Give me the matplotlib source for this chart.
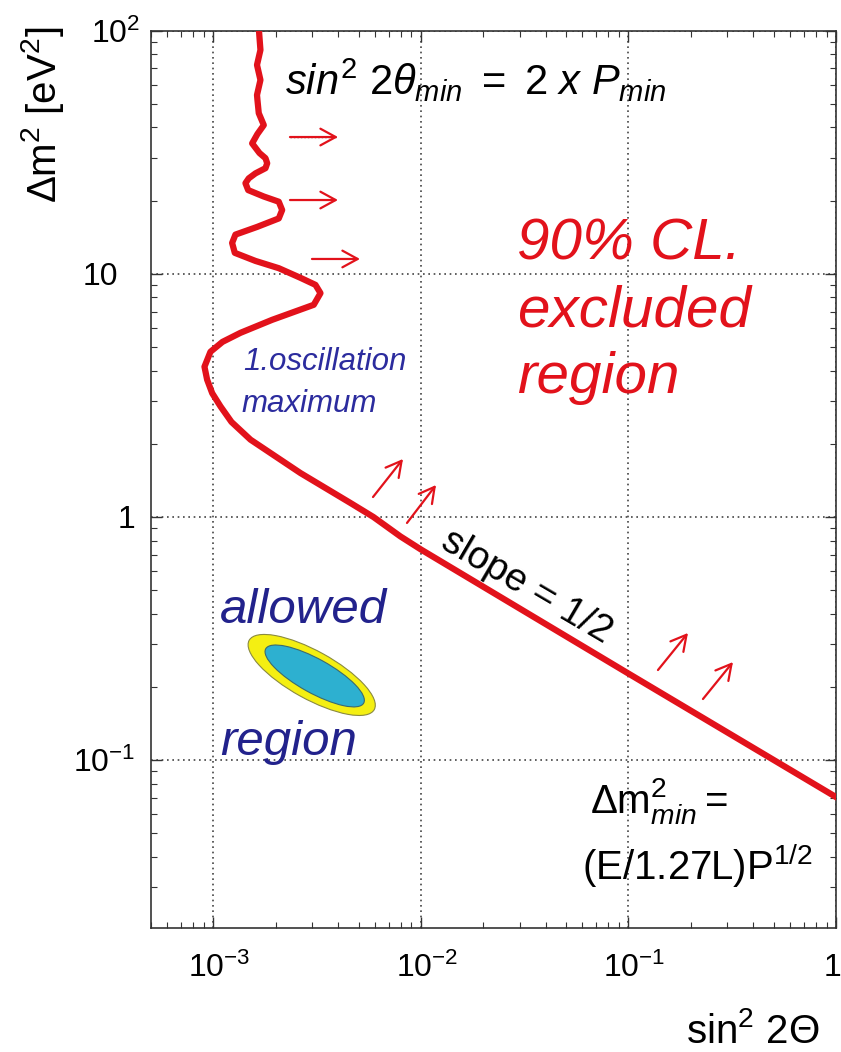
import matplotlib
matplotlib.use("Agg")
import matplotlib.pyplot as plt
from matplotlib.patches import Ellipse
from matplotlib.transforms import ScaledTranslation
from matplotlib.ticker import FixedLocator, LogLocator, NullFormatter

plt.rcParams['font.family'] = ['Liberation Sans', 'DejaVu Sans']
plt.rcParams['mathtext.fontset'] = 'custom'
plt.rcParams['mathtext.rm'] = 'Liberation Sans'
plt.rcParams['mathtext.it'] = 'Liberation Sans:italic'
plt.rcParams['mathtext.bf'] = 'Liberation Sans:bold'

# 90% CL exclusion contour: sin^2(2theta) vs delta m^2 [eV^2]
sin2theta = [1.657e-3, 1.657e-3, 1.684e-3, 1.621e-3, 1.684e-3, 1.621e-3,
             1.629e-3, 1.653e-3, 1.748e-3, 1.629e-3, 1.536e-3, 1.666e-3,
             1.781e-3, 1.815e-3, 1.781e-3, 1.594e-3, 1.479e-3, 1.426e-3,
             1.470e-3, 1.748e-3, 2.064e-3, 2.143e-3, 2.064e-3, 1.624e-3,
             1.276e-3, 1.230e-3, 1.267e-3, 1.594e-3, 2.064e-3, 2.626e-3,
             3.101e-3, 3.279e-3, 3.043e-3, 1.918e-3, 1.349e-3, 1.105e-3,
             9.67e-4, 9.05e-4, 9.32e-4, 9.86e-4, 1.081e-3, 1.221e-3,
             1.508e-3, 2.626e-3, 4.572e-3, 5.90e-3, 7.96e-3, 1.0e-2,
             0.1, 1.0]
dm2 = [105.5, 100, 83.3, 72.3, 62.7, 54.4,
       51.9, 45.8, 40.9, 37.6, 34.4, 31.4,
       29.9, 28.5, 27.2, 25.9, 24.7, 23.6,
       22.1, 20.8, 19.8, 18.3, 16.9, 15.6,
       14.5, 13.4, 12.2, 11.3, 10.55, 9.63,
       9.01, 8.33, 7.46, 6.47, 5.72, 5.25,
       4.78, 4.15, 3.67, 3.23, 2.85, 2.46,
       2.08, 1.516, 1.142, 1.0, 0.832, 0.735,
       0.227, 0.0705]

x_ticks = [1e-3, 1e-2, 1e-1, 1]
x_ticklabels = [r'$10^{-3}$', r'$10^{-2}$', r'$10^{-1}$', '1']
y_ticks = [0.1, 1, 10, 100]
y_ticklabels = [r'$10^{-1}$', '1', '10', r'$10^{2}$']

RED = '#e2121b'
NAVY = '#22228c'
BLUE = '#2c2c9e'

fig = plt.figure(figsize=(8.41, 10.52), dpi=100)
ax = fig.add_axes([151/841, 1 - 928/1052, 685/841, 897.3/1052])
ax.set_xscale('log')
ax.set_yscale('log')
ax.set_xlim(5e-4, 1)
ax.set_ylim(0.0204, 100)

ax.plot(sin2theta, dm2, color=RED, lw=4.5, solid_joinstyle='round', zorder=3)

ax.xaxis.set_major_locator(FixedLocator(x_ticks))
ax.yaxis.set_major_locator(FixedLocator(y_ticks))
ax.set_xticklabels(x_ticklabels)
ax.set_yticklabels(y_ticklabels)
ax.xaxis.set_minor_locator(LogLocator(base=10, subs=range(2, 10), numticks=20))
ax.yaxis.set_minor_locator(LogLocator(base=10, subs=range(2, 10), numticks=20))
ax.xaxis.set_minor_formatter(NullFormatter())
ax.yaxis.set_minor_formatter(NullFormatter())
ax.tick_params(which='both', direction='in', top=True, right=True,
               colors='#333333', labelcolor='black')
ax.tick_params(which='major', length=8, width=1, labelsize=23)
ax.tick_params(which='minor', length=4, width=0.8)
ax.tick_params(axis='y', which='major', pad=8)
ax.tick_params(axis='x', which='major', pad=18)
for s in ax.spines.values():
    s.set_linewidth(1.2)
    s.set_color('#333333')
ax.grid(which='major', linestyle=(0, (1, 2.2)), color='#444444', lw=1.2)
ax.set_axisbelow(True)

# nudge individual tick labels (offsets in pixels)
def nudge(label, dx, dy=0):
    label.set_transform(label.get_transform() +
                        ScaledTranslation(dx / 100, dy / 100, fig.dpi_scale_trans))

fig.canvas.draw()
for lab, dx in zip(ax.get_xticklabels(), [6, 6, 6, -4]):
    nudge(lab, dx)
for lab, dx in zip(ax.get_yticklabels(), [-5, -5, -22, 0]):
    nudge(lab, dx)

# axis titles
fig.text(43/841, 1 - 115/1052, r'$\Delta$m$^2$ [eV$^2$]', rotation=90,
         ha='center', va='center', fontsize=29)
fig.text(820/841, 9/1052, r'sin$^2$ 2$\Theta$', ha='right', va='baseline',
         fontsize=29)

tA = ax.transAxes

# high delta m^2 limit
ax.text(0.1956, 0.9283, r'$sin^2\ \mathrm{2}\theta_{min}\ \mathrm{=\ 2}\ x\ P_{min}$',
        transform=tA, ha='left', va='baseline', fontsize=30, color='black')

# excluded-region label
for txt, fy in [('90% CL.', 0.7445), ('excluded', 0.6698), ('region', 0.5963)]:
    ax.text(0.5343, fy, txt, transform=tA, ha='left', va='baseline',
            fontsize=42, style='italic', color=RED)

# first oscillation maximum
ax.text(0.1343, 0.6219, '1.oscillation', transform=tA, ha='left',
        va='baseline', fontsize=22.5, style='italic', color=BLUE)
ax.text(0.1324, 0.5754, 'maximum', transform=tA, ha='left',
        va='baseline', fontsize=22.5, style='italic', color=BLUE)

# allowed region
ax.text(0.1007, 0.3399, 'allowed', transform=tA, ha='left', va='baseline',
        fontsize=35.5, style='italic', color=NAVY)
ax.text(0.1007, 0.1928, 'region', transform=tA, ha='left', va='baseline',
        fontsize=35.5, style='italic', color=NAVY)
ell_tr = fig.dpi_scale_trans + ScaledTranslation(0.2346, 0.2820, tA)
ax.add_patch(Ellipse((0, 0), 1.43, 0.48, angle=-29, transform=ell_tr,
                     facecolor='#f4ef12', edgecolor='#8a8a40', lw=0.8, zorder=4))
ax.add_patch(Ellipse((0.03, -0.01), 1.12, 0.34, angle=-29, transform=ell_tr,
                     facecolor='#2db0d0', edgecolor='#3a6a70', lw=0.8, zorder=5))

# slope annotation
ax.text(0.5489, 0.3800, 'slope = 1/2', transform=tA, ha='center',
        va='center', rotation=-30.4, rotation_mode='anchor', fontsize=28)

# low delta m^2 limit
ax.text(0.6409, 0.1282, r'$\Delta\mathrm{m}^2_{min}\mathrm{=}$', transform=tA,
        ha='left', va='baseline', fontsize=29)
ax.text(0.6292, 0.0535, r'(E/1.27L)P$^{1/2}$', transform=tA,
        ha='left', va='baseline', fontsize=29)

# arrows pointing into the excluded region
arrows = [((0.2029, 0.8815), (0.2730, 0.8815)),
          ((0.2029, 0.8113), (0.2730, 0.8113)),
          ((0.2350, 0.7456), (0.3051, 0.7456)),
          ((0.3241, 0.4803), (0.3679, 0.5227)),
          ((0.3737, 0.4514), (0.4161, 0.4937)),
          ((0.7401, 0.2875), (0.7839, 0.3288)),
          ((0.8058, 0.2552), (0.8496, 0.2964))]
for start, end in arrows:
    ax.annotate('', xy=end, xytext=start, xycoords=tA, textcoords=tA,
                arrowprops=dict(arrowstyle='->,head_length=0.55,head_width=0.3',
                                color=RED, lw=1.6, mutation_scale=20,
                                shrinkA=0, shrinkB=0))
# dotted overlay on the first arrow shaft
ax.plot([0.2029, 0.2700], [0.8815, 0.8815], transform=tA, color='#5a1010',
        lw=1.0, linestyle=(0, (1, 1.5)))

fig.savefig('out.png', dpi=100, facecolor='white')
